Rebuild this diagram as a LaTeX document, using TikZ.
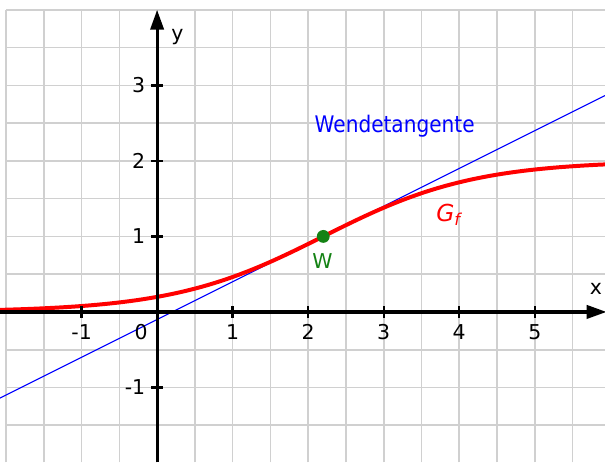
\documentclass[tikz,border=0pt]{standalone}
\usepackage{fontspec}
\setmainfont{DejaVu Sans}
\newfontfamily\narrowfont{DejaVu Sans}[FakeStretch=0.88]
\usetikzlibrary{arrows.meta}
\definecolor{gridgray}{RGB}{208,208,208}
\definecolor{wgreen}{RGB}{20,130,20}
\begin{document}
\begin{tikzpicture}[
    font=\fontsize{7.7}{9}\selectfont,
    axis/.style={line width=1.2pt, -{Triangle[length=7.5pt,width=5pt]}},
    tickmark/.style={line width=0.9pt},
    ticklabel/.style={inner sep=0pt, anchor=base}]
    \useasboundingbox (-2.08,-1.99) rectangle (5.93,4.13);

    % Grid
    \draw[gridgray, line width=0.6pt, step=0.5] (-2,-1.99) grid (5.93,4);

    % Wendetangente in W
    \draw[blue, line width=0.4pt, domain=-2.08:5.93] plot (\x, {0.5*\x-0.1});
    \node[text=blue, inner sep=0pt, anchor=base] (tlabel) at (3.145,2.38)
        {\narrowfont\fontsize{8.6}{10}\selectfont Wendetangente};

    % Graph of f
    \draw[red, line width=1.5pt, domain=-2.08:5.93, samples=120, smooth]
        plot (\x, {2/(1+exp(-(\x-2.2)))});
    \node[text=red, inner sep=0pt, anchor=base west] (glabel) at (3.69,1.20)
        {\fontsize{8.8}{10}\selectfont\itshape G\textsubscript{f}};

    % Axes
    \draw[axis] (-2.08,0) -- (5.95,0);
    \draw[axis] (0,-1.99) -- (0,4.0);
    \node[inner sep=0pt] (xlabel) at (5.81,0.30) {x};
    \node[inner sep=0pt, anchor=base] (ylabel) at (0.27,3.60) {y};

    % Ticks
    \foreach \i/\n in {-1/m1,1/1,2/2,3/3,4/4,5/5} {
        \draw[tickmark] (\i,-0.08) -- (\i,0.08);
        \node[ticklabel] (xt\n) at (\i,-0.36) {\i};
    }
    \foreach \j/\n in {-1/m1,1/1,2/2,3/3} {
        \draw[tickmark] (-0.08,\j) -- (0.08,\j);
        \node[inner sep=0pt, anchor=east] (yt\n) at (-0.15,\j) {\j};
    }
    \node[ticklabel] (zero) at (-0.21,-0.36) {0};

    % Wendepunkt
    \node[circle, fill=wgreen, inner sep=0pt, minimum size=0.17cm] (wpoint) at (2.2,1) {};
    \node[text=wgreen, inner sep=0pt, anchor=base] (wlabel) at (2.19,0.58) {W};
\end{tikzpicture}
\end{document}
